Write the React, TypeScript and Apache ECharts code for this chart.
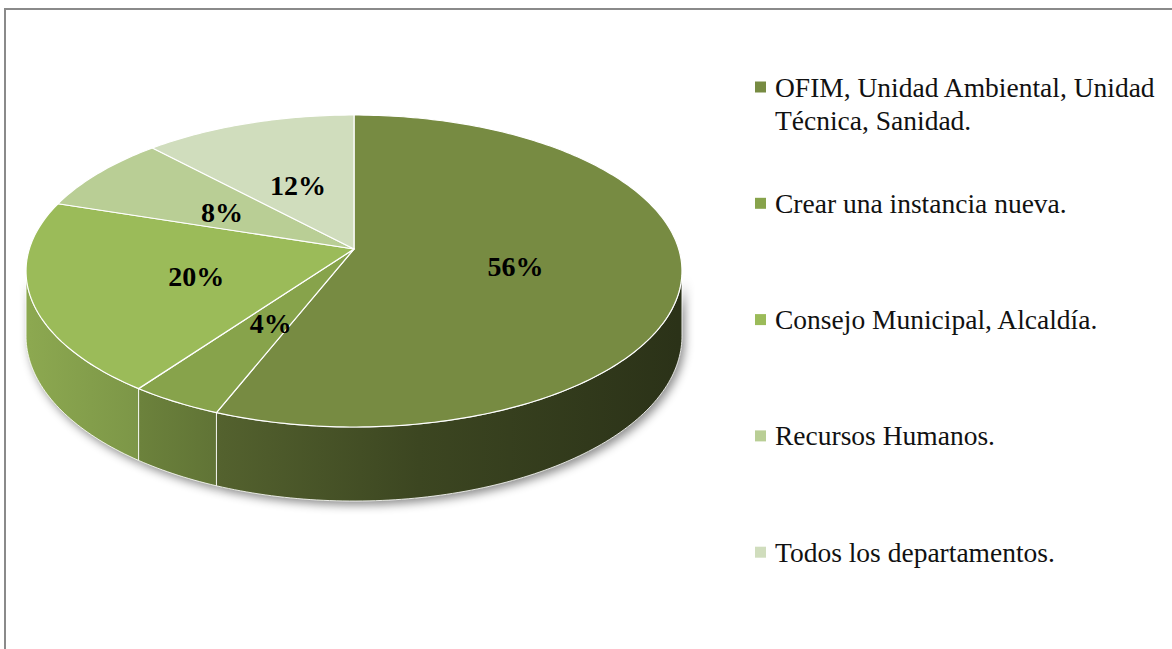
import React, { useEffect, useRef } from 'react';
import * as echarts from 'echarts';

const categories = [
  'OFIM, Unidad Ambiental, Unidad Técnica, Sanidad.',
  'Crear una instancia nueva.',
  'Consejo Municipal, Alcaldía.',
  'Recursos Humanos.',
  'Todos los departamentos.',
];
const values = [56, 4, 20, 8, 12];
const colors = ['#778b42', '#87a34b', '#9bbb59', '#b9ce95', '#d0ddbd'];

// projection of a tilted disk (perspective)
const CX = 354;
const CY = 249;
const RX = 324.7;
const RY = 152.9;
const K = 0.141;
const DEPTH = 63.6;
const FRONT_A = Math.acos(-K);
const FRONT_B = 2 * Math.PI - FRONT_A;

function proj(theta: number, f: number, d: number): number[] {
  const u = f * Math.sin(theta);
  const v = f * Math.cos(theta);
  const w = 1 + K * v;
  return [CX + (RX * u) / w, CY - (RY * v) / w + (d * DEPTH) / w];
}

function shade(hex: string, f: number): string {
  const n = parseInt(hex.slice(1), 16);
  const r = Math.round(((n >> 16) & 255) * f);
  const g = Math.round(((n >> 8) & 255) * f);
  const b = Math.round((n & 255) * f);
  return `rgb(${r},${g},${b})`;
}

const shadeStops = [
  [0, 0.9],
  [0.17, 0.8],
  [0.3, 0.7],
  [0.6, 0.5],
  [1, 0.36],
];

function arcPts(a: number, b: number, f: number, d: number): number[][] {
  const pts: number[][] = [];
  const n = Math.max(2, Math.ceil(((b - a) * 180) / Math.PI));
  for (let j = 0; j <= n; j++) {
    pts.push(proj(a + ((b - a) * j) / n, f, d));
  }
  return pts;
}

export default function App() {
  const ref = useRef<HTMLDivElement>(null);
  useEffect(() => {
    if (!ref.current) return;
    const chart = echarts.init(ref.current, null, { renderer: 'svg' });
    const total = values.reduce((s, v) => s + v, 0);
    const starts: number[] = [];
    let acc = 0;
    values.forEach((v) => {
      starts.push((acc / total) * Math.PI * 2);
      acc += v;
    });

    const legendItems: any[] = [];
    categories.forEach((c, i) => {
      const yc = 87 + 116.3 * i;
      legendItems.push({
        type: 'rect',
        shape: { x: 755, y: yc - 5.5, width: 11, height: 11 },
        style: { fill: colors[i] },
      });
      legendItems.push({
        type: 'text',
        x: 775,
        y: yc - 16.5,
        style: {
          text: c,
          font: '27.5px "Liberation Serif"',
          fill: '#111',
          align: 'left',
          verticalAlign: 'top',
          lineHeight: 33,
          width: 392,
          overflow: 'break',
        },
      });
    });

    chart.setOption({
      animation: false,
      backgroundColor: '#ffffff',
      graphic: [
        {
          type: 'rect',
          shape: { x: 5, y: 9, width: 1250, height: 700 },
          style: { fill: 'none', stroke: '#8a8a8a', lineWidth: 2 },
          silent: true,
        },
        ...legendItems,
      ],
      series: [
        {
          type: 'custom',
          coordinateSystem: 'none',
          data: values.map((v, i) => ({ name: categories[i], value: v })),
          renderItem: (params: any, api: any) => {
            const i = params.dataIndex;
            const v = api.value(0);
            const s = starts[i];
            const e = s + (v / total) * Math.PI * 2;
            const children: any[] = [];
            const top = [proj(0, 0, 0), ...arcPts(s, e, 1, 0)];
            children.push({
              type: 'polygon',
              shape: { points: top },
              style: { fill: colors[i], stroke: '#ffffff', lineWidth: 1.2, lineJoin: 'round' },
              z2: 2,
            });
            const a = Math.max(s, FRONT_A);
            const b = Math.min(e, FRONT_B);
            if (b > a) {
              const side = [...arcPts(a, b, 1, 0), ...arcPts(a, b, 1, 1).reverse()];
              const grad = {
                type: 'linear',
                x: CX - RX,
                y: 0,
                x2: CX + RX,
                y2: 0,
                global: true,
                colorStops: shadeStops.map(([o, f]) => ({ offset: o, color: shade(colors[i], f) })),
              };
              children.push({
                type: 'polygon',
                shape: { points: side },
                style: {
                  fill: grad,
                  shadowBlur: 10,
                  shadowColor: 'rgba(0,0,0,0.45)',
                  shadowOffsetX: 3,
                  shadowOffsetY: 4,
                },
                z2: 0,
              });
              children.push({
                type: 'polygon',
                shape: { points: side },
                style: { fill: grad, stroke: 'rgba(255,255,255,0.85)', lineWidth: 1 },
                z2: 1,
              });
            }
            const mid = (s + e) / 2;
            const lp = proj(mid, 0.5, 0);
            children.push({
              type: 'text',
              x: lp[0],
              y: lp[1] + 3,
              style: {
                text: `${Math.round((v / total) * 100)}%`,
                font: 'bold 28px "Liberation Serif"',
                fill: '#000',
                align: 'center',
                verticalAlign: 'middle',
              },
              z2: 3,
            });
            return { type: 'group', children };
          },
        },
      ],
    });
    return () => chart.dispose();
  }, []);
  return (
    <div
      ref={ref}
      style={{ position: 'fixed', left: 0, top: 0, width: 1172, height: 649, background: '#fff' }}
    />
  );
}
